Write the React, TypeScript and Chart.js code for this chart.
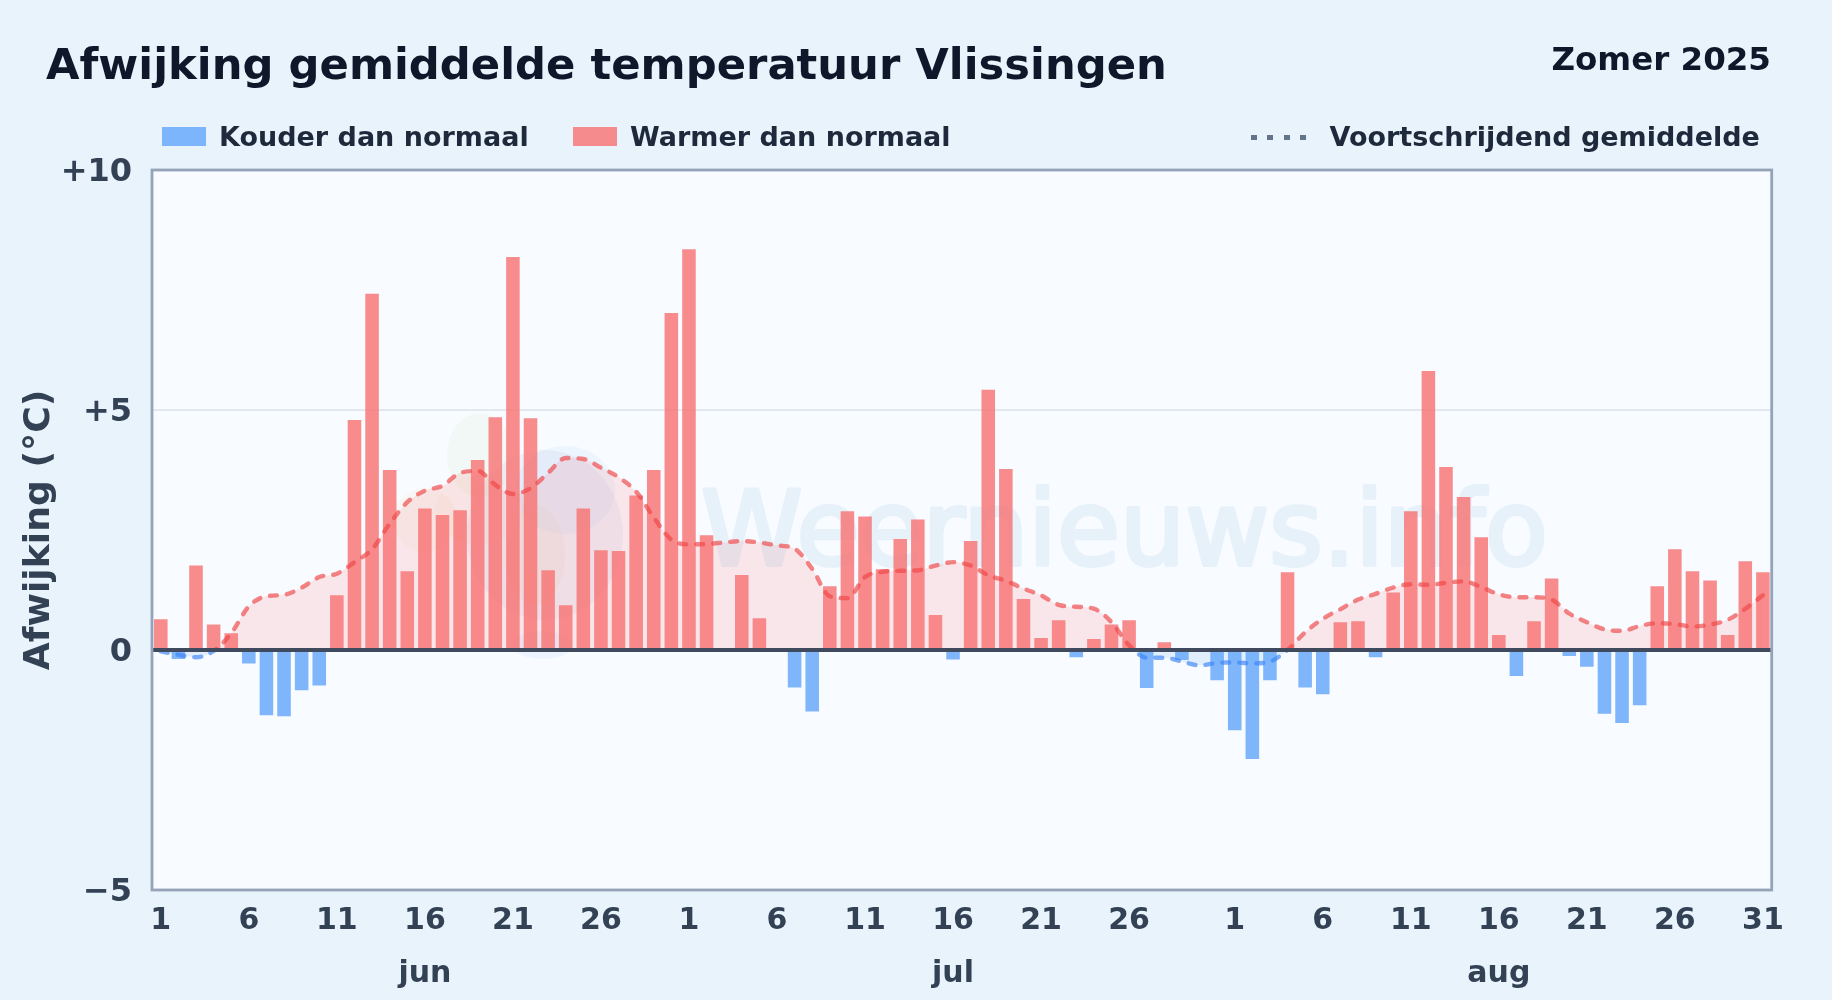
import React, { useEffect, useRef } from "react";
import { Chart, registerables } from "chart.js";

Chart.register(...registerables);

const FONT = '"DejaVu Sans", sans-serif';

const juneDeviation = [0.64, -0.19, 1.76, 0.53, 0.35, -0.28, -1.36, -1.38, -0.84, -0.74, 1.14, 4.79, 7.42, 3.75, 1.64, 2.95, 2.81, 2.91, 3.96, 4.85, 8.19, 4.83, 1.66, 0.93, 2.95, 2.08, 2.06, 3.22, 3.75, 7.02];
const julyDeviation = [8.35, 2.39, 0, 1.56, 0.66, 0, -0.78, -1.28, 1.33, 2.89, 2.78, 1.68, 2.31, 2.72, 0.73, -0.2, 2.27, 5.42, 3.77, 1.06, 0.25, 0.62, -0.15, 0.23, 0.53, 0.62, -0.79, 0.16, -0.21, 0, -0.63];
const augustDeviation = [-1.67, -2.27, -0.63, 1.62, -0.78, -0.92, 0.58, 0.6, -0.15, 1.2, 2.89, 5.81, 3.81, 3.19, 2.35, 0.31, -0.54, 0.6, 1.49, -0.125, -0.35, -1.33, -1.52, -1.15, 1.33, 2.1, 1.64, 1.45, 0.31, 1.85, 1.62];

const juneMean = [-0.03, -0.1, -0.15, -0.02, 0.35, 0.91, 1.12, 1.15, 1.3, 1.52, 1.59, 1.83, 2.1, 2.63, 3.08, 3.32, 3.42, 3.69, 3.73, 3.44, 3.25, 3.37, 3.69, 4.0, 3.98, 3.8, 3.6, 3.3, 2.76, 2.3];
const julyMean = [2.2, 2.21, 2.24, 2.27, 2.24, 2.18, 2.11, 1.69, 1.12, 1.08, 1.52, 1.63, 1.65, 1.66, 1.76, 1.83, 1.76, 1.56, 1.44, 1.28, 1.14, 0.94, 0.9, 0.86, 0.58, 0.1, -0.16, -0.16, -0.24, -0.32, -0.27];
const augustMean = [-0.26, -0.28, -0.24, 0, 0.37, 0.65, 0.85, 1.05, 1.17, 1.3, 1.37, 1.36, 1.4, 1.43, 1.31, 1.16, 1.1, 1.1, 1.05, 0.76, 0.58, 0.43, 0.4, 0.5, 0.56, 0.54, 0.49, 0.53, 0.63, 0.86, 1.14];

const dayLabels = [
  ...juneDeviation.map((_, i) => String(i + 1)),
  ...julyDeviation.map((_, i) => String(i + 1)),
  ...augustDeviation.map((_, i) => String(i + 1)),
];
const shownTicks = [0, 5, 10, 15, 20, 25, 30, 35, 40, 45, 50, 55, 61, 66, 71, 76, 81, 86, 91];
const monthTicks: Record<number, string> = { 15: "jun", 45: "jul", 76: "aug" };

const RED_BAR = "rgba(248,113,113,0.8)";
const BLUE_BAR = "rgba(96,165,250,0.8)";

const backgroundPlugin = {
  id: "plotBackground",
  beforeDraw(chart: any) {
    const { ctx, chartArea: a } = chart;
    ctx.save();
    ctx.fillStyle = "#f8fbff";
    ctx.fillRect(a.left, a.top, a.width, a.height);
    // faint logo
    const blob = (x: number, y: number, rx: number, ry: number, c: string) => {
      ctx.fillStyle = c;
      ctx.beginPath();
      ctx.ellipse(x, y, rx, ry, 0, 0, Math.PI * 2);
      ctx.fill();
    };
    blob(480, 455, 33, 42, "rgba(200,230,170,0.12)");
    blob(425, 520, 32, 32, "rgba(250,220,160,0.10)");
    blob(480, 510, 45, 35, "rgba(250,220,160,0.08)");
    blob(535, 555, 30, 50, "rgba(250,220,160,0.10)");
    blob(565, 490, 50, 44, "rgba(147,197,253,0.10)");
    blob(545, 535, 78, 85, "rgba(120,110,170,0.07)");
    blob(543, 645, 30, 14, "rgba(147,197,253,0.12)");
    // watermark
    ctx.font = `102.7px ${FONT}`;
    ctx.textBaseline = "alphabetic";
    ctx.textAlign = "left";
    ctx.fillStyle = "#e6f1fa";
    ctx.strokeStyle = "#e6f1fa";
    ctx.lineWidth = 4;
    ctx.lineJoin = "round";
    ctx.strokeText("Weernieuws.info", 701, 565);
    ctx.fillText("Weernieuws.info", 701, 565);
    ctx.restore();
  },
  afterDraw(chart: any) {
    const { ctx, chartArea: a, scales } = chart;
    ctx.save();
    const y0 = scales.y.getPixelForValue(0);
    ctx.strokeStyle = "#3f4a5f";
    ctx.lineWidth = 4;
    ctx.beginPath();
    ctx.moveTo(a.left, y0);
    ctx.lineTo(a.right, y0);
    ctx.stroke();
    ctx.strokeStyle = "#94a3b8";
    ctx.lineWidth = 2.8;
    ctx.strokeRect(a.left, a.top, a.width, a.height);
    ctx.restore();
  },
};

const textTop = (baseline: number, size: number) => baseline - 0.846 * size;

const textStyle = (baseline: number, size: number, color: string): React.CSSProperties => ({
  position: "absolute",
  top: textTop(baseline, size),
  fontFamily: FONT,
  fontWeight: 700,
  fontSize: size,
  lineHeight: 1,
  color,
  whiteSpace: "nowrap",
});

export default function App() {
  const ref = useRef<HTMLCanvasElement>(null);

  useEffect(() => {
    const deviation = [...juneDeviation, ...julyDeviation, ...augustDeviation];
    const mean = [...juneMean, ...julyMean, ...augustMean];
    const chart = new Chart(ref.current as HTMLCanvasElement, {
      type: "bar",
      plugins: [backgroundPlugin],
      data: {
        labels: dayLabels,
        datasets: [
          {
            type: "line",
            label: "Voortschrijdend gemiddelde",
            data: mean,
            order: 0,
            pointRadius: 0,
            borderWidth: 4.4,
            borderDash: [7, 10],
            borderCapStyle: "round",
            cubicInterpolationMode: "monotone",
            borderColor: (c: any) => {
              const ch = c.chart;
              const y = ch.scales.y;
              if (!ch.chartArea || !y) return "rgba(239,68,68,0.65)";
              const g = ch.ctx.createLinearGradient(0, y.getPixelForValue(10), 0, y.getPixelForValue(-5));
              const stop = 10 / 15;
              g.addColorStop(0, "rgba(239,68,68,0.65)");
              g.addColorStop(stop, "rgba(239,68,68,0.65)");
              g.addColorStop(stop, "rgba(59,130,246,0.65)");
              g.addColorStop(1, "rgba(59,130,246,0.65)");
              return g;
            },
            fill: { target: { value: 0 }, above: "rgba(248,113,113,0.15)", below: "rgba(96,165,250,0.15)" },
          } as any,
          {
            type: "bar",
            label: "Afwijking",
            data: deviation,
            order: 1,
            categoryPercentage: 1,
            barPercentage: 0.77,
            backgroundColor: (c: any) => (c.raw < 0 ? BLUE_BAR : RED_BAR),
          } as any,
        ],
      },
      options: {
        responsive: false,
        animation: false,
        devicePixelRatio: 1,
        layout: { padding: { top: 170, right: 60.3, left: 0, bottom: 0 } },
        plugins: {
          legend: { display: false },
          title: { display: false },
          tooltip: { enabled: false },
          filler: { drawTime: "beforeDatasetsDraw" },
        } as any,
        scales: {
          x: {
            afterFit: (s: any) => { s.height = 110; },
            grid: { display: false, drawTicks: false },
            border: { display: false },
            ticks: {
              autoSkip: false,
              maxRotation: 0,
              minRotation: 0,
              padding: 5,
              color: "#334155",
              font: { family: FONT, weight: "bold", size: 30, lineHeight: 53 / 30 },
              callback: (_v: any, i: number) => {
                if (!shownTicks.includes(i)) return null;
                return monthTicks[i] ? [dayLabels[i], monthTicks[i]] : dayLabels[i];
              },
            },
          },
          y: {
            min: -5,
            max: 10,
            afterFit: (s: any) => { s.width = 152; },
            grid: { color: "#e2e8f0", lineWidth: 2, drawTicks: false },
            border: { display: false },
            title: {
              display: true,
              text: "Afwijking (°C)",
              color: "#334155",
              font: { family: FONT, weight: "bold", size: 36.2, lineHeight: 1.2 },
              padding: { top: 18, bottom: 0 },
            },
            ticks: {
              stepSize: 5,
              padding: 20,
              labelOffset: 3,
              color: "#334155",
              font: { family: FONT, weight: "bold", size: 32 },
              callback: (v: any) => (v > 0 ? `+${v}` : v < 0 ? `\u2212${Math.abs(v)}` : "0"),
            },
          },
        },
      },
    });
    return () => chart.destroy();
  }, []);

  const swatch = (left: number, color: string): React.CSSProperties => ({
    position: "absolute",
    left,
    top: 127,
    width: 44,
    height: 19,
    background: color,
  });

  return (
    <div style={{ position: "fixed", left: 0, top: 0, width: 1832, height: 1000, background: "#e9f3fc", overflow: "hidden" }}>
      <canvas ref={ref} width={1832} height={1000} style={{ position: "absolute", left: 0, top: 0, width: 1832, height: 1000 }} />
      <div style={{ ...textStyle(80, 43.3, "#0f172a"), left: 46 }}>Afwijking gemiddelde temperatuur Vlissingen</div>
      <div style={{ ...textStyle(70, 32.5, "#0f172a"), right: 61 }}>Zomer 2025</div>
      <div style={swatch(162, BLUE_BAR)} />
      <div style={{ ...textStyle(145.8, 27, "#1e293b"), left: 219 }}>Kouder dan normaal</div>
      <div style={swatch(573, RED_BAR)} />
      <div style={{ ...textStyle(145.8, 27, "#1e293b"), left: 630 }}>Warmer dan normaal</div>
      {[0, 1, 2, 3].map((i) => (
        <div key={i} style={{ position: "absolute", left: 1251 + i * 16.4, top: 134.5, width: 6, height: 5, background: "#64748b" }} />
      ))}
      <div style={{ ...textStyle(145.8, 27, "#1e293b"), left: 1329.5 }}>Voortschrijdend gemiddelde</div>
    </div>
  );
}
